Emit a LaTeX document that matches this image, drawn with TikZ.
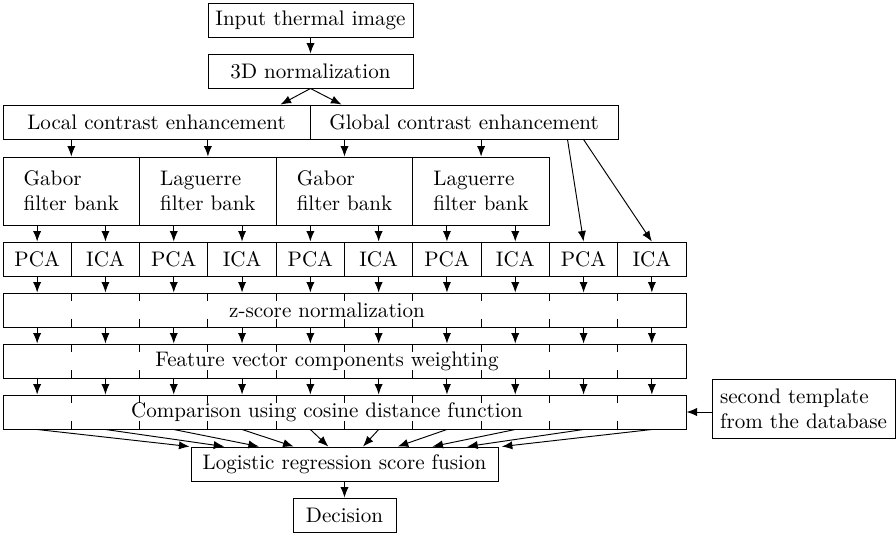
\documentclass[tikz,border=0pt]{standalone}
\usetikzlibrary{arrows.meta}
\begin{document}
\begin{tikzpicture}[x=0.4749pt, y=-0.4749pt, line width=0.45pt,
  box/.style={draw, inner sep=0pt, align=center},
  sz/.style 2 args={minimum width=#1*0.4749pt, minimum height=#2*0.4749pt},
  arr/.style={-{Latex[length=5pt,width=3.9pt]}},
  tick/.style={dash pattern=on 3.8pt off 8.5pt}]
\useasboundingbox (0,0) rectangle (896,536);

% top chain
\node[box, sz={205}{34}] (input) at (310.5,20) {Input thermal image};
\node[box, sz={205}{34}] (norm) at (310.5,71) {3D normalization};
\node[box, sz={307}{34}] (local) at (156.5,122) {Local contrast enhancement};
\node[box, sz={308}{34}] (global) at (464,122) {Global contrast enhancement};

% filter banks
\node[box, sz={136.6}{68}, align=left] (g1) at (71.3,191) {Gabor\\filter bank};
\node[box, sz={136.6}{68}, align=left] (l1) at (207.9,191) {Laguerre\\filter bank};
\node[box, sz={136.6}{68}, align=left] (g2) at (344.5,191) {Gabor\\filter bank};
\node[box, sz={136.6}{68}, align=left] (l2) at (481.1,191) {Laguerre\\filter bank};

% PCA / ICA cells
\foreach \k in {0,...,9}{
  \pgfmathsetmacro{\cx}{37.15+68.3*\k}
  \pgfmathtruncatemacro{\odd}{mod(\k,2)}
  \ifnum\odd=0 \def\lab{PCA}\else\def\lab{ICA}\fi
  \node[box, sz={68.3}{34}] (c\k) at (\cx,259) {\lab};
}

% wide boxes
\node[box, sz={683}{34}] (zs) at (344.5,310) {};
\node[box, sz={683}{34}] (fv) at (344.5,361) {};
\node[box, sz={683}{34}] (cmp) at (344.5,412) {};
\node[inner sep=0pt] (zst) at (327,310) {z-score normalization};
\node[inner sep=0pt] (fvt) at (327,361) {Feature vector components weighting};
\node[inner sep=0pt] (cmpt) at (327,412) {Comparison using cosine distance function};

\node[box, sz={307}{34}] (lr) at (344.5,464) {Logistic regression score fusion};
\node[box, sz={103}{34}] (dec) at (344.5,515) {Decision};
\node[box, sz={183}{59}, align=left] (tmpl) at (803.5,408.5) {second template\\from the database};

% dashed separators
\foreach \k in {1,...,9}{
  \pgfmathsetmacro{\bx}{3+68.3*\k}
  \draw[tick] (\bx,293) -- (\bx,327);
  \draw[tick] (\bx,344) -- (\bx,378);
  \draw[tick] (\bx,395) -- (\bx,429);
}

% connectors
\draw[arr] (input) -- (norm);
\draw[arr] (norm.south) -- ([xshift=-14.2pt]local.north east);
\draw[arr] (norm.south) -- ([xshift=15.2pt]global.north west);
\draw[arr] (local.south -| g1) -- (g1.north);
\draw[arr] (local.south -| l1) -- (l1.north);
\draw[arr] (global.south -| g2) -- (g2.north);
\draw[arr] (global.south -| l2) -- (l2.north);
\draw[arr] ([xshift=-24.2pt]global.south east) -- (c8.north);
\draw[arr] ([xshift=-16.6pt]global.south east) -- (c9.north);

\draw[arr] (g1.south -| c0) -- (c0.north);
\draw[arr] (g1.south -| c1) -- (c1.north);
\draw[arr] (l1.south -| c2) -- (c2.north);
\draw[arr] (l1.south -| c3) -- (c3.north);
\draw[arr] (g2.south -| c4) -- (c4.north);
\draw[arr] (g2.south -| c5) -- (c5.north);
\draw[arr] (l2.south -| c6) -- (c6.north);
\draw[arr] (l2.south -| c7) -- (c7.north);

\foreach \k in {0,...,9}{
  \draw[arr] (c\k.south) -- (zs.north -| c\k);
  \draw[arr] (zs.south -| c\k) -- (fv.north -| c\k);
  \draw[arr] (fv.south -| c\k) -- (cmp.north -| c\k);
  \pgfmathsetmacro{\ex}{(-1+34.7*\k)*0.4749}
  \draw[arr] (cmp.south -| c\k) -- ([xshift=\ex pt]lr.north west);
}

\draw[arr] (lr) -- (dec);
\draw[arr] (tmpl.west |- cmp.east) -- (cmp.east);
\end{tikzpicture}
\end{document}
